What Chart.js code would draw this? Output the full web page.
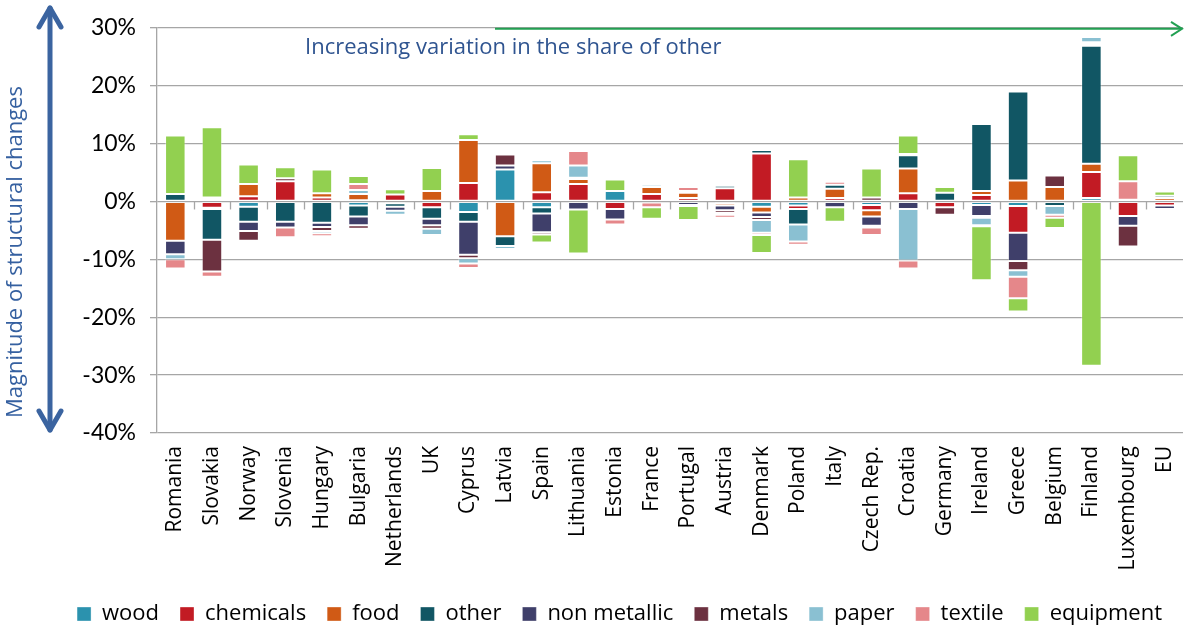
<!DOCTYPE html>
<html>
<head>
<meta charset="utf-8">
<script src="https://cdn.jsdelivr.net/npm/chart.js@4.4.0/dist/chart.umd.min.js"></script>
<style>
  html, body { margin: 0; padding: 0; background: #fff; }
  #wrap { width: 1184px; height: 630px; }
</style>
</head>
<body>
<div id="wrap"><canvas id="grafico" width="1184" height="630"></canvas></div>
<script>
// -------------------- dados --------------------
const paises = ['Romania', 'Slovakia', 'Norway', 'Slovenia', 'Hungary', 'Bulgaria', 'Netherlands', 'UK',
    'Cyprus', 'Latvia', 'Spain', 'Lithuania', 'Estonia', 'France', 'Portugal', 'Austria', 'Denmark',
    'Poland', 'Italy', 'Czech Rep.', 'Croatia', 'Germany', 'Ireland', 'Greece', 'Belgium', 'Finland',
    'Luxembourg', 'EU'];

const wood        = [0, 0, -0.9, 0, 0, -0.7, -0.3, 0, -1.8, 5.5, -1.0, 0, 1.8, 0, 0, -0.3, -0.9, -0.7, 0, -0.6, 0, 0, -0.6, -0.8, 0, 0.6, 0, 0];
const chemicals   = [0, -1.1, 0.9, 3.5, 0.7, 0.2, 1.2, -1.0, 3.2, 0, 1.6, 3.0, -1.3, 1.3, 0.6, 2.3, 8.3, -0.6, 0.6, -0.9, 1.4, -1.0, 1.1, -4.6, 0, 4.5, -2.5, -0.7];
const food        = [-6.8, -0.2, 2.1, 0, 0.7, 1.1, 0, 1.8, 7.4, -6.0, 5.0, 0.9, 0, 1.2, 0.9, -0.4, -1.0, 0.7, 1.6, -1.1, 4.3, 0, 0.7, 3.6, 2.5, 1.4, 0.3, 0.6];
const other       = [1.3, -5.3, -2.6, -3.5, -3.7, -1.9, -0.6, -2.0, -1.7, -1.7, -1.1, 0, 0, 0, 0.3, 0.4, 0.6, -2.7, 0.7, 0, 2.3, 1.5, 11.6, 15.4, -0.8, 20.4, 0, 0.4];
const nonMetallic = [-2.3, 0.4, -1.6, -1.0, -0.7, -1.5, -0.7, -1.1, -5.7, 0.7, -3.2, -1.4, -1.8, -0.2, -0.6, -0.8, -0.8, 0, -1.0, -1.6, -1.3, 0, -1.9, -4.9, 0, 0.3, -1.7, -0.6];
const metals      = [0, -5.5, -1.7, 0.5, -0.7, -0.6, 0, -0.6, -0.6, 1.9, -0.4, 0.2, 0, 0, 0, -0.5, -0.5, 0, 0, 0.7, 0.2, -1.3, -0.3, -1.6, 2.0, 0.3, -3.6, 0];
const paper       = [-0.9, 0.3, -0.3, 0, -0.4, 0.7, -0.7, -1.1, -0.9, -0.5, 0.5, 2.1, 0, 0.4, -0.2, -0.3, -2.2, -2.9, 0, -0.3, -8.9, -0.2, -1.3, -1.1, -1.5, 0.9, -0.3, -0.3];
const textile     = [-1.6, -0.9, -0.3, -1.7, -0.5, 1.0, 0, 0, -0.8, 0, 0, 2.5, -0.9, -0.8, 0.7, -0.5, -0.4, -0.6, 0.5, -1.3, -1.4, -0.3, -0.2, -3.7, -0.5, 0, 3.2, -0.2];
const equipment   = [10.1, 12.1, 3.4, 1.9, 4.1, 1.4, 0.9, 4.0, 1.0, 0, -1.4, -7.6, 2.0, -2.0, -2.4, 0, -3.1, 6.6, -2.5, 5.0, 3.2, 1.0, -9.3, -2.3, -1.8, -28.4, 4.5, 0.7];

const yTicks = [-40, -30, -20, -10, 0, 10, 20, 30];

const series = [
    { label: 'wood', data: wood, cor: '#2B92AE' },
    { label: 'chemicals', data: chemicals, cor: '#C21B24' },
    { label: 'food', data: food, cor: '#D05A15' },
    { label: 'other', data: other, cor: '#115664' },
    { label: 'non metallic', data: nonMetallic, cor: '#3F3F6A' },
    { label: 'metals', data: metals, cor: '#6C3140' },
    { label: 'paper', data: paper, cor: '#8AC0D2' },
    { label: 'textile', data: textile, cor: '#E5878A' },
    { label: 'equipment', data: equipment, cor: '#92D050' }
];

// -------------------- altura fixa da legenda --------------------
const alturaLegenda = {
    id: 'alturaLegenda',
    beforeUpdate(chart) {
        const legenda = chart.legend;
        if (!legenda || legenda._alturaFixa) return;
        const fitOriginal = legenda.fit;
        legenda.fit = function () {
            fitOriginal.call(this);
            this.height = 48;
        };
        legenda._alturaFixa = true;
    }
};

// -------------------- marcas do eixo no zero --------------------
const marcasZero = {
    id: 'marcasZero',
    afterDatasetsDraw(chart) {
        const ctx = chart.ctx;
        const x = chart.scales.x;
        const y0 = chart.scales.y.getPixelForValue(0);
        const passo = x.getPixelForValue(1) - x.getPixelForValue(0);
        ctx.save();
        ctx.strokeStyle = '#A6A6A6';
        ctx.lineWidth = 1.3;
        for (let i = 1; i < paises.length; i++) {
            const px = Math.round(x.getPixelForValue(i) - passo / 2) + 0.5;
            ctx.beginPath();
            ctx.moveTo(px, y0);
            ctx.lineTo(px, y0 + 8);
            ctx.stroke();
        }
        ctx.restore();
    }
};

// -------------------- setas e textos --------------------
const anotacoes = {
    id: 'anotacoes',
    afterDraw(chart) {
        const ctx = chart.ctx;
        const area = chart.chartArea;
        ctx.save();

        // seta verde no topo
        const yTopo = area.top + 1;
        ctx.strokeStyle = '#22A052';
        ctx.lineWidth = 2;
        ctx.beginPath();
        ctx.moveTo(495, yTopo);
        ctx.lineTo(area.right - 1, yTopo);
        ctx.stroke();
        ctx.beginPath();
        ctx.moveTo(area.right - 12, yTopo - 7);
        ctx.lineTo(area.right - 1, yTopo);
        ctx.lineTo(area.right - 12, yTopo + 7);
        ctx.stroke();

        ctx.fillStyle = '#2F5490';
        ctx.font = '22px "Open Sans"';
        ctx.textBaseline = 'middle';
        ctx.textAlign = 'left';
        ctx.fillText('Increasing variation in the share of other', 305, 48);

        // seta dupla azul na esquerda
        ctx.strokeStyle = '#3B64A0';
        ctx.lineWidth = 5;
        ctx.lineCap = 'round';
        ctx.lineJoin = 'round';
        ctx.beginPath();
        ctx.moveTo(50, 8);
        ctx.lineTo(50, 430);
        ctx.stroke();
        ctx.beginPath();
        ctx.moveTo(39, 27);
        ctx.lineTo(50, 8);
        ctx.lineTo(61, 27);
        ctx.stroke();
        ctx.beginPath();
        ctx.moveTo(39, 411);
        ctx.lineTo(50, 430);
        ctx.lineTo(61, 411);
        ctx.stroke();

        // titulo do eixo
        ctx.translate(16, 252);
        ctx.rotate(-Math.PI / 2);
        ctx.fillStyle = '#3560A0';
        ctx.textAlign = 'center';
        ctx.fillText('Magnitude of structural changes', 0, 0);
        ctx.restore();
    }
};

// -------------------- grafico --------------------
new Chart(document.getElementById('grafico'), {
    type: 'bar',
    data: {
        labels: paises,
        datasets: series.map(s => ({
            label: s.label,
            data: s.data,
            backgroundColor: s.cor,
            borderColor: 'rgba(255,255,255,0.35)',
            borderWidth: 1,
            borderSkipped: false,
            barPercentage: 0.56,
            categoryPercentage: 1
        }))
    },
    options: {
        responsive: false,
        animation: false,
        devicePixelRatio: 1,
        layout: { padding: { top: 26, right: 1, left: 0, bottom: 0 } },
        plugins: {
            legend: {
                position: 'bottom',
                align: 'end',
                labels: {
                    boxWidth: 14,
                    boxHeight: 14,
                    padding: 21,
                    color: '#000',
                    font: { family: 'Open Sans', size: 22 }
                }
            },
            tooltip: { enabled: false }
        },
        scales: {
            x: {
                stacked: true,
                grid: { display: false, drawTicks: false },
                border: { display: false },
                ticks: {
                    autoSkip: false,
                    minRotation: 90,
                    maxRotation: 90,
                    padding: 13,
                    color: '#000',
                    font: { family: 'Open Sans', size: 21 }
                },
                afterFit(scale) {
                    scale.height = 149;
                    scale.paddingLeft = 0;
                    scale.paddingRight = 0;
                }
            },
            y: {
                stacked: true,
                min: -40,
                max: 30,
                afterBuildTicks(scale) { scale.ticks = yTicks.map(v => ({ value: v })); },
                ticks: {
                    callback: v => v + '%',
                    padding: 14,
                    color: '#000',
                    font: { family: 'Lato', size: 23 }
                },
                grid: { color: '#A6A6A6', lineWidth: 1.3, tickLength: 7 },
                border: { color: '#A6A6A6', width: 1.3 },
                afterFit(scale) { scale.width = 157; }
            }
        }
    },
    plugins: [alturaLegenda, marcasZero, anotacoes]
});
</script>
</body>
</html>
